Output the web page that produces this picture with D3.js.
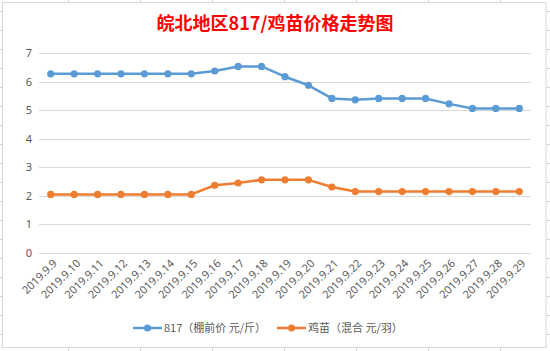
<!DOCTYPE html>
<html>
<head>
<meta charset="utf-8">
<script src="https://cdn.jsdelivr.net/npm/d3@7"></script>
<style>
  html, body { margin: 0; padding: 0; background: #fff; }
  svg { display: block; font-family: "Noto Sans CJK SC", "Noto Sans", sans-serif; }
</style>
</head>
<body>
<svg id="chart" width="550" height="351"></svg>
<script>
const dates = ["2019.9.9","2019.9.10","2019.9.11","2019.9.12","2019.9.13","2019.9.14","2019.9.15",
  "2019.9.16","2019.9.17","2019.9.18","2019.9.19","2019.9.20","2019.9.21","2019.9.22",
  "2019.9.23","2019.9.24","2019.9.25","2019.9.26","2019.9.27","2019.9.28","2019.9.29"];
const price817 = [6.27,6.27,6.27,6.27,6.27,6.27,6.27,6.37,6.53,6.53,6.17,5.87,5.41,5.36,5.41,5.41,5.41,5.22,5.06,5.06,5.06];
const priceChick = [2.05,2.05,2.05,2.05,2.05,2.05,2.05,2.37,2.45,2.56,2.56,2.56,2.31,2.15,2.15,2.15,2.15,2.15,2.15,2.15,2.15];
const yTicks = [0,1,2,3,4,5,6,7];
const series = [
  { name: "817（棚前价 元/斤）", values: price817, color: "#5b9bd5" },
  { name: "鸡苗（混合 元/羽）", values: priceChick, color: "#ed7d31" }
];
const title = "皖北地区817/鸡苗价格走势图";

const svg = d3.select("#chart");
const W = 550, H = 351;

// spreadsheet cells behind the chart
const cellCols = d3.range(-4, 550, 72);
const cellRows = d3.range(11, 351, 19);
svg.append("g").selectAll("line")
  .data(cellCols).enter().append("line")
  .attr("x1", d => d + 0.5).attr("x2", d => d + 0.5).attr("y1", 0).attr("y2", H)
  .attr("stroke", "#d4d4d4");
svg.append("g").selectAll("line")
  .data(cellRows).enter().append("line")
  .attr("x1", 0).attr("x2", W).attr("y1", d => d + 0.5).attr("y2", d => d + 0.5)
  .attr("stroke", "#d4d4d4");

// chart frame
svg.append("rect")
  .attr("x", 2.5).attr("y", 2.5).attr("width", 543.5).attr("height", 345)
  .attr("fill", "#fff").attr("stroke", "#d9d9d9");

svg.append("text")
  .attr("x", 275).attr("y", 30)
  .attr("text-anchor", "middle")
  .attr("fill", "#ff0000")
  .attr("font-size", 18).attr("font-weight", "bold")
  .text(title);

const margin = { left: 39, right: 19, top: 53, bottom: 98 };
const x = d3.scaleBand().domain(dates).range([margin.left, W - margin.right]);
const y = d3.scaleLinear().domain([0, 7]).range([H - margin.bottom, margin.top]);

// gridlines
svg.append("g").selectAll("line")
  .data(yTicks).enter().append("line")
  .attr("x1", margin.left).attr("x2", W - margin.right)
  .attr("y1", d => Math.round(y(d)) + 0.5).attr("y2", d => Math.round(y(d)) + 0.5)
  .attr("stroke", "#d9d9d9");

// y labels
const gy = svg.append("g")
  .attr("transform", `translate(${margin.left - 7},0)`)
  .call(d3.axisLeft(y).tickValues(yTicks).tickFormat(d3.format("d")).tickSize(0).tickPadding(0));
gy.select(".domain").remove();
gy.selectAll(".tick text")
  .attr("fill", "#595959").attr("font-size", 11)
  .attr("font-family", "Noto Sans, sans-serif");

// x labels
const gx = svg.append("g")
  .attr("transform", `translate(0,${H - margin.bottom})`)
  .call(d3.axisBottom(x).tickSize(0).tickPadding(0));
gx.select(".domain").remove();
gx.selectAll(".tick text")
  .attr("fill", "#595959").attr("font-size", 11)
  .attr("font-family", "Noto Sans, sans-serif")
  .attr("text-anchor", "end")
  .attr("dy", 0)
  .attr("transform", "translate(7,11) rotate(-45)");

// lines and markers
const line = d3.line()
  .x((d, i) => x(dates[i]) + x.bandwidth() / 2)
  .y(d => y(d));

for (const s of series) {
  svg.append("path")
    .datum(s.values)
    .attr("fill", "none")
    .attr("stroke", s.color)
    .attr("stroke-width", 2.5)
    .attr("stroke-linejoin", "round")
    .attr("d", line);
  svg.append("g").selectAll("circle")
    .data(s.values).enter().append("circle")
    .attr("cx", (d, i) => x(dates[i]) + x.bandwidth() / 2)
    .attr("cy", d => y(d))
    .attr("r", 3.6)
    .attr("fill", s.color);
}

// legend
const legendX = [133, 277];
const legend = svg.append("g").selectAll("g")
  .data(series).enter().append("g")
  .attr("transform", (d, i) => `translate(${legendX[i]},328)`);
legend.append("line")
  .attr("x1", 0).attr("x2", 29).attr("y1", 0).attr("y2", 0)
  .attr("stroke", d => d.color).attr("stroke-width", 2.5);
legend.append("circle")
  .attr("cx", 14.5).attr("cy", 0).attr("r", 3.6)
  .attr("fill", d => d.color);
legend.append("text")
  .attr("x", 31).attr("y", 4)
  .attr("fill", "#595959").attr("font-size", 11)
  .text(d => d.name);
</script>
</body>
</html>
